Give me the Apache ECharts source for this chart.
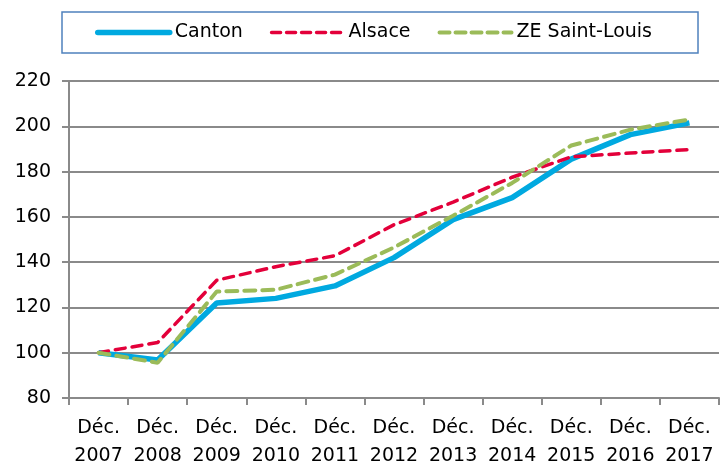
<!DOCTYPE html>
<html>
<head>
<meta charset="utf-8">
<script src="https://cdn.jsdelivr.net/npm/echarts@6/dist/echarts.min.js"></script>
<style>
  html, body { margin: 0; padding: 0; background: #fff; }
  #chart { width: 720px; height: 468px; }
</style>
</head>
<body>
<div id="chart"></div>
<script>
const years = ['2007', '2008', '2009', '2010', '2011', '2012', '2013', '2014', '2015', '2016', '2017']
const categories = years.map(y => 'Déc.\n' + y)
const canton = [100, 96.8, 122, 124, 129.5, 142, 158.8, 168.5, 185.5, 196.3, 201.5]
const alsace = [100, 104.5, 132, 138, 142.8, 156.5, 166.5, 177.5, 186.5, 188.2, 189.7]
const zeSaintLouis = [100, 95.6, 127, 127.8, 134.5, 146.5, 160.5, 175, 191.5, 198.5, 203]

const font = 'DejaVu Sans'
const gridColor = '#8a8a8a'

const chart = echarts.init(document.getElementById('chart'))

chart.setOption({
  animation: false,
  textStyle: { fontFamily: font },
  legend: {
    left: 62,
    top: 12,
    padding: [11, 46, 11, 33],
    borderColor: '#4f81bd',
    borderWidth: 1.5,
    itemWidth: 72,
    itemHeight: 14,
    itemGap: 27,
    textStyle: { fontSize: 19, color: '#000', fontFamily: font },
    data: [
      { name: 'Canton', itemStyle: { opacity: 0 }, lineStyle: { width: 5.5, cap: 'round' } },
      { name: 'Alsace', itemStyle: { opacity: 0 }, lineStyle: { width: 3.5, type: [9, 6] } },
      { name: 'ZE Saint-Louis', itemStyle: { opacity: 0 }, lineStyle: { width: 4, type: [10, 6] } }
    ]
  },
  grid: {
    left: 69,
    right: 1,
    top: 81,
    bottom: 70,
    outerBoundsMode: 'none'
  },
  xAxis: {
    type: 'category',
    data: categories,
    boundaryGap: true,
    axisLine: { lineStyle: { color: gridColor, width: 2 } },
    axisTick: { show: true, length: 7, lineStyle: { color: gridColor, width: 2 } },
    axisLabel: {
      color: '#000',
      fontSize: 19,
      lineHeight: 28,
      margin: 16,
      interval: 0
    }
  },
  yAxis: {
    type: 'value',
    min: 80,
    max: 220,
    interval: 20,
    axisLine: { show: true, lineStyle: { color: gridColor, width: 2 } },
    axisTick: { show: true, length: 7, lineStyle: { color: gridColor, width: 2 } },
    splitLine: { lineStyle: { color: gridColor, width: 2 } },
    axisLabel: { color: '#000', fontSize: 19, margin: 18 }
  },
  series: [
    {
      name: 'Canton',
      type: 'line',
      data: canton,
      symbol: 'none',
      z: 2,
      lineStyle: { color: '#00a9e0', width: 5.5 },
      itemStyle: { color: '#00a9e0' }
    },
    {
      name: 'Alsace',
      type: 'line',
      data: alsace,
      symbol: 'none',
      z: 3,
      lineStyle: { color: '#e3003a', width: 3.5, type: [10, 7], cap: 'round' },
      itemStyle: { color: '#e3003a' }
    },
    {
      name: 'ZE Saint-Louis',
      type: 'line',
      data: zeSaintLouis,
      symbol: 'none',
      z: 4,
      lineStyle: { color: '#9bbb59', width: 4, type: [11, 7], cap: 'round' },
      itemStyle: { color: '#9bbb59' }
    }
  ]
})
</script>
</body>
</html>
